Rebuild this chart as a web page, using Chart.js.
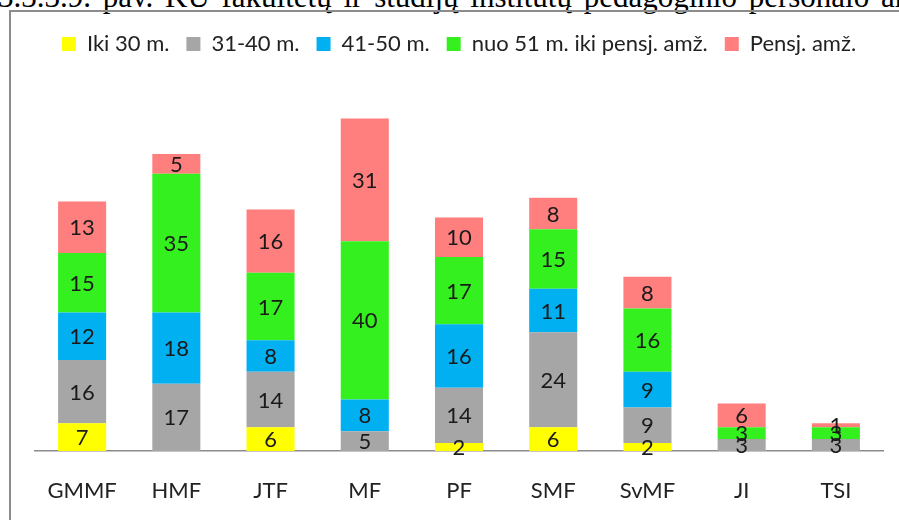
<!DOCTYPE html>
<html>
<head>
<meta charset="utf-8">
<script src="https://cdn.jsdelivr.net/npm/chart.js@4"></script>
<style>
  html, body { margin: 0; padding: 0; background: #fff; overflow: hidden; }
  body { width: 899px; height: 520px; position: relative; }
  #title {
    position: absolute; left: -2px; top: -21px; white-space: nowrap;
    font-family: "Liberation Serif", serif; font-size: 31px; word-spacing: 4px; color: #000;
  }
  #frame {
    position: absolute; left: 9px; top: 10px; width: 1000px; height: 600px;
    border: 2px solid #8c8c8c; box-sizing: border-box;
  }
  #wrap { position: absolute; left: 0; top: 0; width: 899px; height: 520px; }
</style>
</head>
<body>
<div id="title">3.3.3.9. pav. KU fakultetų ir studijų institutų pedagoginio personalo amžius</div>
<div id="frame"></div>
<div id="wrap"><canvas id="ageChart"></canvas></div>
<script>
const units = ["GMMF", "HMF", "JTF", "MF", "PF", "SMF", "SvMF", "JI", "TSI"];
const under30 = [7, 0, 6, 0, 2, 6, 2, 0, 0];
const age31to40 = [16, 17, 14, 5, 14, 24, 9, 3, 3];
const age41to50 = [12, 18, 8, 8, 16, 11, 9, 0, 0];
const from51 = [15, 35, 17, 40, 17, 15, 16, 3, 3];
const retired = [13, 5, 16, 31, 10, 8, 8, 6, 1];

const FONT = "Lato, 'Open Sans', sans-serif";

// numbers in the middle of every non-empty segment
const segmentLabels = {
  id: "segmentLabels",
  afterDatasetsDraw(chart) {
    const ctx = chart.ctx;
    ctx.save();
    ctx.font = "22px " + FONT;
    ctx.fillStyle = "#1a1a1a";
    ctx.textAlign = "center";
    ctx.textBaseline = "middle";
    chart.data.datasets.forEach((ds, i) => {
      chart.getDatasetMeta(i).data.forEach((bar, j) => {
        const v = ds.data[j];
        if (!v) return;
        ctx.fillText(String(v), bar.x, (bar.y + bar.base) / 2 + 1);
      });
    });
    ctx.restore();
  },
};

const mk = (label, data, color) => ({
  label, data, backgroundColor: color, borderWidth: 0,
  barPercentage: 0.51, categoryPercentage: 1,
});

new Chart(document.getElementById("ageChart"), {
  type: "bar",
  data: {
    labels: units,
    datasets: [
      mk("Iki 30 m.", under30, "#ffff00"),
      mk("31-40 m.", age31to40, "#a6a6a6"),
      mk("41-50 m.", age41to50, "#00b0f0"),
      mk("nuo 51 m. iki pensj. amž.", from51, "#33f01e"),
      mk("Pensj. amž.", retired, "#ff7f7f"),
    ],
  },
  options: {
    responsive: true,
    maintainAspectRatio: false,
    animation: false,
    layout: { padding: { left: 35, right: 16, top: 16, bottom: 0 } },
    plugins: {
      legend: {
        display: true,
        labels: {
          boxWidth: 14, boxHeight: 14, padding: 17,
          color: "#222", font: { family: FONT, size: 22 },
        },
      },
      tooltip: { enabled: false },
    },
    scales: {
      x: {
        stacked: true,
        grid: { display: false, drawTicks: false },
        border: { display: true, color: "#8c8c8c", width: 1.5 },
        ticks: { padding: 27, color: "#222", font: { family: FONT, size: 22 } },
        afterFit: (s) => { s.height = 69; },
      },
      y: {
        stacked: true,
        display: false,
        min: 0,
        max: 97.5,
      },
    },
  },
  plugins: [segmentLabels],
});
</script>
</body>
</html>
